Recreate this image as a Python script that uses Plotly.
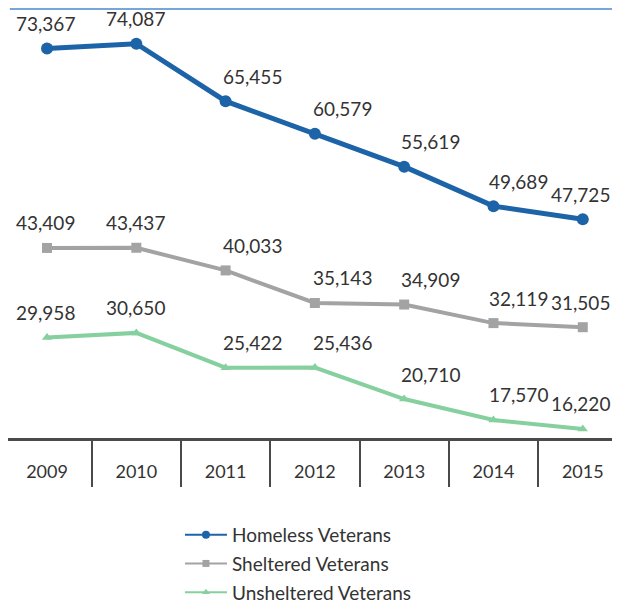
import plotly.graph_objects as go

years = ["2009", "2010", "2011", "2012", "2013", "2014", "2015"]
homeless = [73367, 74087, 65455, 60579, 55619, 49689, 47725]
sheltered = [43409, 43437, 40033, 35143, 34909, 32119, 31505]
unsheltered = [29958, 30650, 25422, 25436, 20710, 17570, 16220]

# label nudges: middle years sit above-right of the point
label_shift = [-2, -1, 27, 28, 26, 25, -2]

xs = list(range(len(years)))

series = [
    ("Homeless Veterans", homeless, "#1c63a8", "circle", 12, 5, 8),
    ("Sheltered Veterans", sheltered, "#a3a3a3", "square", 10, 4, 7),
    ("Unsheltered Veterans", unsheltered, "#86d09f", "triangle-up", 9, 4, 7),
]

fig = go.Figure()
annotations = []
for name, vals, color, symbol, msize, lw, leg_size in series:
    fig.add_trace(
        go.Scatter(
            x=xs,
            y=vals,
            mode="lines+markers",
            name=name,
            showlegend=False,
            line=dict(color=color, width=lw),
            marker=dict(symbol=symbol, size=msize, color=color),
        )
    )
    # legend entry with slimmer symbol, like the original key
    fig.add_trace(
        go.Scatter(
            x=[None],
            y=[None],
            mode="lines+markers",
            name=name,
            legendgroup=name,
            line=dict(color=color, width=2),
            marker=dict(symbol=symbol, size=leg_size, color=color),
        )
    )
    for i, v in enumerate(vals):
        annotations.append(
            dict(
                x=xs[i],
                y=v,
                text=f"{v:,}",
                showarrow=False,
                xanchor="center",
                yanchor="middle",
                xshift=label_shift[i],
                yshift=25,
                font=dict(size=19, color="#333333"),
            )
        )

# light blue rule along the top
fig.add_shape(
    type="line", xref="paper", yref="paper",
    x0=0.003, x1=1.02, y0=1, y1=1,
    line=dict(color="#76a6da", width=2),
)

fig.update_layout(
    width=620,
    height=604,
    margin=dict(l=0, r=8, t=1, b=0),
    plot_bgcolor="white",
    paper_bgcolor="white",
    font=dict(family="Lato, Noto Sans, sans-serif", color="#333333"),
    annotations=annotations,
    showlegend=True,
    legend=dict(
        x=0.281, y=0.135, xanchor="left", yanchor="top",
        font=dict(size=19, color="#333333"),
        tracegroupgap=1,
        itemwidth=42,
    ),
)
fig.update_xaxes(
    range=[-0.437, 6.417],
    tickmode="array",
    tickvals=xs,
    ticktext=years,
    ticks="outside",
    ticklen=16,
    tickcolor="rgba(0,0,0,0)",
    tickfont=dict(size=18, color="#333333"),
    showgrid=False,
    zeroline=False,
    showline=True,
    linecolor="#4a4a4a",
    linewidth=2.5,
    minor=dict(
        tickvals=[i + 0.5 for i in xs[:-1]],
        ticks="outside",
        ticklen=46,
        tickcolor="#4a4a4a",
        tickwidth=1.5,
    ),
)
fig.update_yaxes(
    domain=[0.268, 1],
    range=[14870, 79300],
    showgrid=False,
    zeroline=False,
    showticklabels=False,
    showline=False,
)

fig.write_html("out.html")
